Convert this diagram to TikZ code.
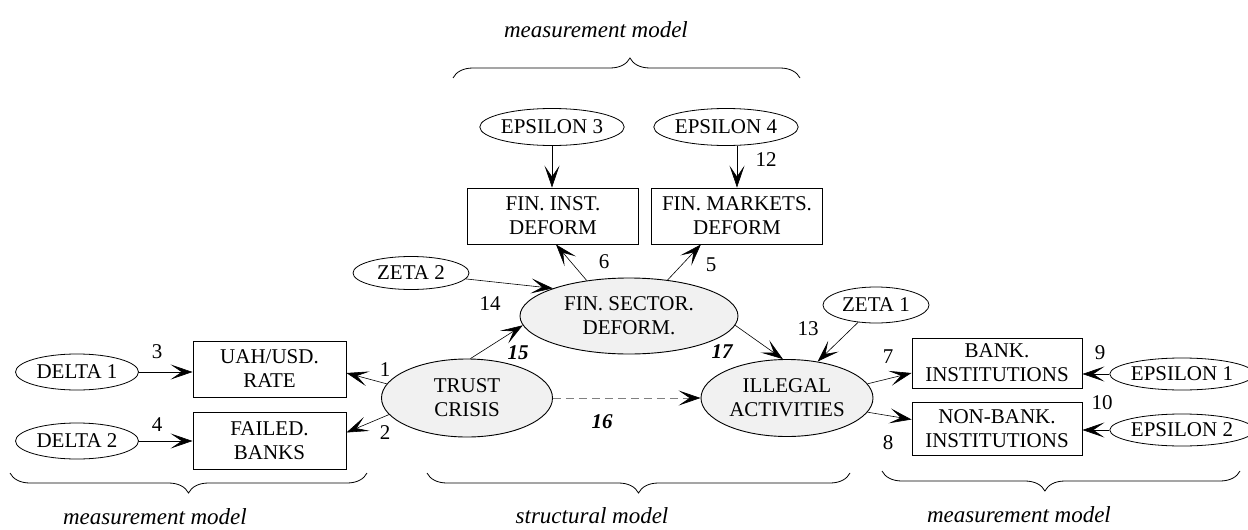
\documentclass[tikz,border=0pt]{standalone}
\usepackage{fontspec}
\setmainfont{Liberation Serif}
\usetikzlibrary{arrows.meta,shapes.geometric,decorations.pathreplacing,calc}
\definecolor{latfill}{HTML}{F1F1F1}
\newcommand\boxfont{\fontsize{21}{24}\selectfont}
\newcommand\capfont{\fontsize{23}{26}\selectfont}

\begin{document}
\begin{tikzpicture}[x=1pt,y=-1pt,
  lat/.style={ellipse, draw, line width=0.9pt, fill=latfill, inner sep=0pt, align=center, font=\boxfont},
  err/.style={ellipse, draw, line width=0.8pt, fill=white, inner sep=0pt, font=\boxfont},
  obs/.style={rectangle, draw, line width=0.9pt, inner sep=0pt, align=center, font=\boxfont},
  link/.style={line width=0.6pt, -{Stealth[length=22pt,width=15pt,inset=11pt]}},
  num/.style={font=\boxfont},
  coef/.style={font=\boxfont\bfseries\itshape},
  caption/.style={font=\capfont\itshape, anchor=base},
  curly/.style={decorate, decoration={brace, amplitude=20pt, aspect=#1}, line width=0.8pt},
  curly/.default=0.5]

\useasboundingbox (0,0) rectangle (1248,530);

% latent variables
\node[lat, minimum width=218pt, minimum height=76pt] (fin) at (629,316) {FIN. SECTOR.\\DEFORM.};
\node[lat, minimum width=171pt, minimum height=78pt] (trust) at (467,398) {TRUST\\CRISIS};
\node[lat, minimum width=172pt, minimum height=77pt] (illegal) at (787,398) {ILLEGAL\\ACTIVITIES};

% indicators
\node[obs, minimum width=171pt, minimum height=56pt] (finst) at (553,216) {FIN. INST.\\DEFORM};
\node[obs, minimum width=171pt, minimum height=56pt] (mk) at (737,216) {FIN. MARKETS.\\DEFORM};
\node[obs, minimum width=153pt, minimum height=56pt] (uah) at (269.5,369) {UAH/USD.\\RATE};
\node[obs, minimum width=153pt, minimum height=57pt] (failed) at (269.5,440.5) {FAILED.\\BANKS};
\node[obs, minimum width=170pt, minimum height=50pt] (bank) at (997,363) {BANK.\\INSTITUTIONS};
\node[obs, minimum width=170pt, minimum height=53pt] (nonbank) at (997,428.5) {NON-BANK.\\INSTITUTIONS};

% error terms
\node[err, minimum width=141pt, minimum height=37pt] (eps3) at (552,127) {EPSILON 3};
\node[err, minimum width=142pt, minimum height=37pt] (eps4) at (726,127) {EPSILON 4};
\node[err, minimum width=116pt, minimum height=33pt] (zeta2) at (411,273) {ZETA 2};
\node[err, minimum width=106pt, minimum height=36pt] (zeta1) at (876,305) {ZETA 1};
\node[err, minimum width=123pt, minimum height=36pt] (delta1) at (77,372) {DELTA 1};
\node[err, minimum width=123pt, minimum height=36pt] (delta2) at (77,441) {DELTA 2};
\node[err, minimum width=138pt, minimum height=32pt] (eps1) at (1182,374) {EPSILON 1};
\node[err, minimum width=138pt, minimum height=32pt] (eps2) at (1182,430) {EPSILON 2};

% measurement paths
\draw[link] (eps3.south) -- (eps3.south |- finst.north);
\draw[link] (mk.north |- eps4.south) -- (mk.north);
\draw[link] (fin.140) -- ($(finst.south)+(3,0)$);
\draw[link] (fin.43) -- ($(mk.south west)!0.29!(mk.south east)$);
\draw[link] (delta1.east) -- (delta1.east -| uah.west);
\draw[link] (delta2.east) -- (delta2.east -| failed.west);
\draw[link] (trust.170) -- ($(uah.east)+(0,4)$);
\draw[link] (trust.192) -- ($(failed.east)+(0,-8)$);
\draw[link] (illegal.10) -- ($(bank.west)+(0,10)$);
\draw[link] (illegal.-10) -- ($(nonbank.west)+(0,-9)$);
\draw[link] (eps1.west) -- (eps1.west -| bank.east);
\draw[link] (eps2.west) -- (eps2.west -| nonbank.east);

% structural paths
\draw[link] (zeta2) -- (fin.160);
\draw[link] (trust.85) -- (fin.185);
\draw[link] (fin.-5) -- (illegal.96);
\draw[link] (zeta1) -- (illegal.50);
\draw[line width=0.7pt, draw=gray, dash pattern=on 8pt off 5pt,
      -{Stealth[length=22pt,width=15pt,inset=11pt,color=black]}] (trust) -- (illegal);

% path numbers
\node[num] (n1) at (385,370) {1};
\node[num] (n2) at (385,433) {2};
\node[num] (n3) at (157,352) {3};
\node[num] (n4) at (157,425) {4};
\node[num] (n5) at (711,265) {5};
\node[num] (n6) at (604,262) {6};
\node[num] (n7) at (888,357) {7};
\node[num] (n8) at (888,443) {8};
\node[num] (n9) at (1100,353) {9};
\node[num] (n10) at (1102,403) {10};
\node[num] (n12) at (766,160) {12};
\node[num] (n13) at (808,329) {13};
\node[num] (n14) at (490,304) {14};
\node[coef] (c15) at (518,353) {15};
\node[coef] (c16) at (602,422) {16};
\node[coef] (c17) at (722,352) {17};

% braces and captions
\draw[curly=0.51] (453,78) -- (800,78);
\draw[curly=0.5] (367,473) -- (10,473);
\draw[curly=0.5] (850,473) -- (427,473);
\draw[curly=0.545] (1240,471) -- (882,471);

\node[caption] (captop) at (596,37) {measurement model};
\node[caption] (capleft) at (155,524) {measurement model};
\node[caption] (capmid) at (592,523) {structural model};
\node[caption] (capright) at (1019,522) {measurement model};
\end{tikzpicture}
\end{document}
